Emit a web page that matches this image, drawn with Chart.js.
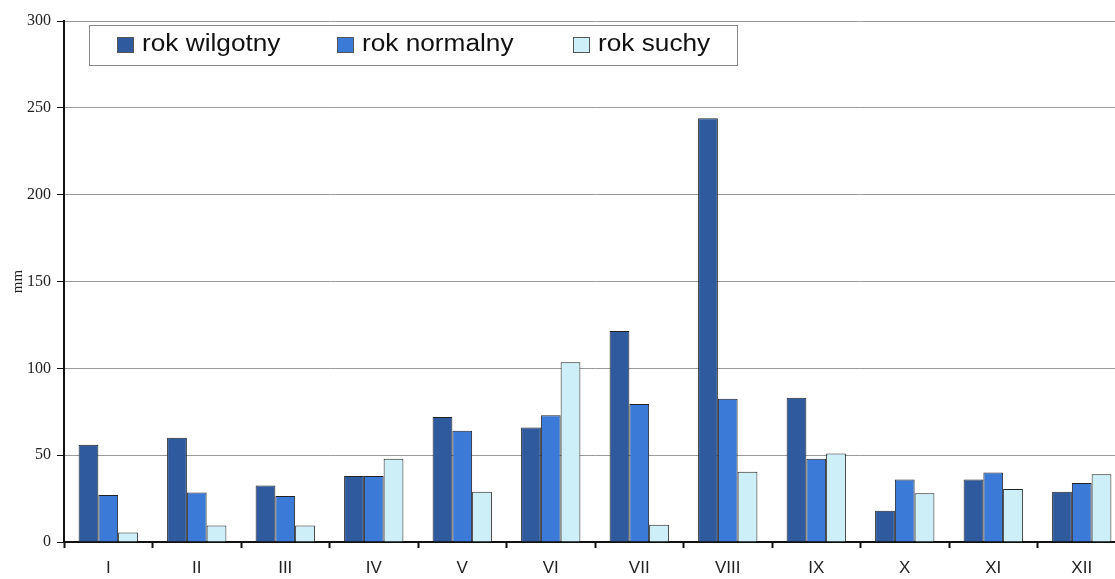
<!DOCTYPE html>
<html>
<head>
<meta charset="utf-8">
<script src="https://cdn.jsdelivr.net/npm/chart.js@4.4.1/dist/chart.umd.min.js"></script>
<style>
    html, body { margin: 0; padding: 0; background: #fff; overflow: hidden; }
    #wrap { width: 1126px; height: 579px; }
</style>
</head>
<body>
<div id="wrap"><canvas id="myChart"></canvas></div>
<script>
// * Months (roman numerals) and precipitation in mm
const months = ["I", "II", "III", "IV", "V", "VI", "VII", "VIII", "IX", "X", "XI", "XII"];
const wetYear = [56, 60, 32.5, 38, 72, 66, 121.5, 244, 83, 18, 36, 29];
const normalYear = [27, 28.5, 26.5, 38, 64, 73, 79.5, 82.5, 48, 36, 40, 34];
const dryYear = [5.5, 9.5, 9.5, 48, 29, 103.5, 10, 40.5, 51, 28, 30.5, 39];
const seriesNames = ["rok wilgotny", "rok normalny", "rok suchy"];
const seriesColors = ["#2F5B9E", "#3C7AD8", "#CDEFF8"];

const ctx = document.getElementById("myChart").getContext("2d");

// * Legend in a grey box, drawn inside the plot like the original
const boxLegend = {
    id: "boxLegend",
    afterDraw(chart) {
        const c = chart.ctx;
        const itemX = [117, 337, 573];
        c.save();
        c.fillStyle = "#fff";
        c.fillRect(89.5, 25.5, 648, 40);
        c.strokeStyle = "#8a8a8a";
        c.lineWidth = 1;
        c.strokeRect(89.5, 25.5, 648, 40);
        c.textBaseline = "middle";
        chart.data.datasets.forEach((ds, i) => {
            c.fillStyle = ds.backgroundColor;
            c.fillRect(itemX[i] + 0.5, 37.5, 16, 15);
            c.strokeStyle = "#555";
            c.strokeRect(itemX[i] + 0.5, 37.5, 16, 15);
            // text in the scan is a bit wider than Arial, stretch it a little
            c.save();
            c.translate(itemX[i] + 25, 45);
            c.scale(1.14, 1);
            c.font = "23px 'Liberation Sans', Arial, sans-serif";
            c.fillStyle = "#111";
            c.fillText(ds.label, 0, 0);
            c.restore();
        });
        c.restore();
    },
};

const config = {
    type: "bar",
    data: {
        labels: months,
        datasets: [wetYear, normalYear, dryYear].map((vals, i) => ({
            label: seriesNames[i],
            data: vals,
            backgroundColor: seriesColors[i],
            borderColor: "#222",
            borderWidth: 1,
            barPercentage: 1,
            categoryPercentage: 0.67,
        })),
    },
    options: {
        animation: false,
        responsive: true,
        maintainAspectRatio: false,
        layout: { padding: { top: 21, right: 0, left: 0, bottom: 0 } },
        plugins: {
            legend: { display: false },
            tooltip: { enabled: false },
        },
        scales: {
            x: {
                grid: {
                    drawOnChartArea: false,
                    tickLength: 6,
                    tickColor: "#111",
                    tickWidth: 2,
                },
                border: { color: "#111", width: 2 },
                ticks: {
                    color: "#222",
                    font: { family: "'Liberation Sans', Arial, sans-serif", size: 17 },
                    padding: 10,
                },
                afterFit(scale) { scale.height = 37; },
            },
            y: {
                min: 0,
                max: 300,
                ticks: {
                    stepSize: 50,
                    color: "#222",
                    font: { family: "'Liberation Serif', 'Times New Roman', serif", size: 16 },
                    padding: 6,
                },
                grid: {
                    color: "#9a9a9a",
                    tickColor: "#111",
                    tickLength: 7,
                    lineWidth: 1,
                },
                border: { color: "#111", width: 2 },
                title: {
                    display: true,
                    text: "mm",
                    color: "#222",
                    font: { family: "'Liberation Serif', 'Times New Roman', serif", size: 15 },
                    padding: { top: 9, bottom: 0 },
                },
                afterFit(scale) { scale.width = 64; },
            },
        },
    },
    plugins: [boxLegend],
};

const chart = new Chart(ctx, config);
</script>
</body>
</html>
